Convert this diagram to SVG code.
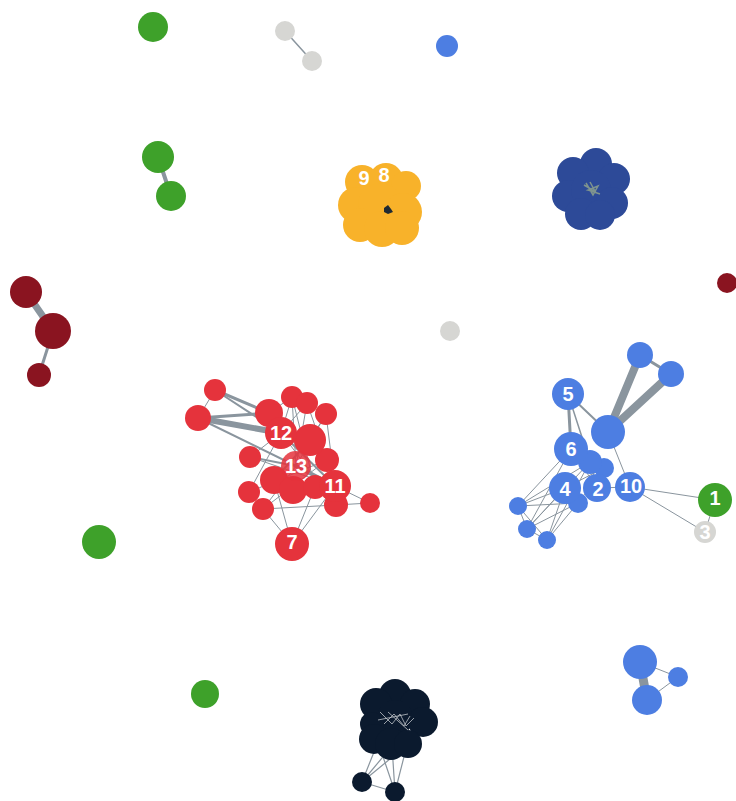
<svg xmlns="http://www.w3.org/2000/svg" width="736" height="801" viewBox="0 0 736 801">
<style>
.e{stroke:#8a959e;fill:none;stroke-linecap:round}
.red{fill:#e5333c}
.blu{fill:#4d7ee2}
.dbl{fill:#2d4a98}
.yel{fill:#f8b22a}
.grn{fill:#3ea12a}
.drd{fill:#8a1420}
.gry{fill:#d6d6d3}
.blk{fill:#0b1a2e}
.lb{font-family:"Liberation Sans",Arial,sans-serif;font-weight:bold;font-size:20px;fill:#ffffff;text-anchor:middle;dominant-baseline:central}
</style>
<rect width="736" height="801" fill="#ffffff"/>
<g id="connectors">
<line class="e" x1="285" y1="31" x2="312" y2="61" stroke-width="1.5"/>
<line class="e" x1="158" y1="157" x2="171" y2="196" stroke-width="4"/>
<line class="e" x1="26" y1="292" x2="53" y2="331" stroke-width="7"/>
<line class="e" x1="53" y1="331" x2="39" y2="375" stroke-width="3"/>
<line class="e" x1="640" y1="662" x2="647" y2="700" stroke-width="9"/>
<line class="e" x1="640" y1="662" x2="678" y2="677" stroke-width="1"/>
<line class="e" x1="647" y1="700" x2="678" y2="677" stroke-width="1"/>
<g stroke-width="1">
<line class="e" x1="215" y1="390" x2="198" y2="418"/>
<line class="e" x1="215" y1="390" x2="269" y2="413" stroke-width="3"/>
<line class="e" x1="215" y1="390" x2="281" y2="433" stroke-width="2"/>
<line class="e" x1="198" y1="418" x2="269" y2="413" stroke-width="3"/>
<line class="e" x1="198" y1="418" x2="281" y2="433" stroke-width="6"/>
<line class="e" x1="198" y1="418" x2="296" y2="466" stroke-width="2"/>
<line class="e" x1="269" y1="413" x2="292" y2="397"/>
<line class="e" x1="281" y1="433" x2="292" y2="397"/>
<line class="e" x1="281" y1="433" x2="307" y2="403"/>
<line class="e" x1="296" y1="466" x2="292" y2="397"/>
<line class="e" x1="296" y1="466" x2="307" y2="403"/>
<line class="e" x1="310" y1="440" x2="326" y2="414"/>
<line class="e" x1="296" y1="466" x2="326" y2="414"/>
<line class="e" x1="335" y1="486" x2="326" y2="414"/>
<line class="e" x1="250" y1="457" x2="281" y2="433"/>
<line class="e" x1="250" y1="457" x2="296" y2="466" stroke-width="2"/>
<line class="e" x1="249" y1="492" x2="281" y2="433"/>
<line class="e" x1="263" y1="509" x2="296" y2="466"/>
<line class="e" x1="335" y1="486" x2="370" y2="503"/>
<line class="e" x1="336" y1="505" x2="370" y2="503"/>
<line class="e" x1="292" y1="544" x2="274" y2="480"/>
<line class="e" x1="292" y1="544" x2="315" y2="487"/>
<line class="e" x1="292" y1="544" x2="335" y2="486"/>
<line class="e" x1="292" y1="544" x2="263" y2="509"/>
<line class="e" x1="263" y1="509" x2="336" y2="505"/>
<line class="e" x1="274" y1="480" x2="335" y2="486"/>
<line class="e" x1="281" y1="433" x2="335" y2="486" stroke="#3c4a58" stroke-width="2"/>
<line class="e" x1="296" y1="466" x2="335" y2="486" stroke="#2e3c4a" stroke-width="4"/>
<line class="e" x1="310" y1="440" x2="274" y2="480" stroke="#3c4a58" stroke-width="2"/>
<line class="e" x1="269" y1="413" x2="327" y2="460"/>
<line class="e" x1="250" y1="457" x2="335" y2="486" stroke="#4a5866"/>
<line class="e" x1="249" y1="492" x2="327" y2="460"/>
<line class="e" x1="307" y1="403" x2="327" y2="460"/>
<line class="e" x1="292" y1="397" x2="315" y2="487"/>
<line class="e" x1="263" y1="509" x2="327" y2="460"/>
<line class="e" x1="281" y1="433" x2="336" y2="505" stroke="#3c4a58"/>
</g>
<line class="e" x1="608" y1="432" x2="640" y2="355" stroke-width="8"/>
<line class="e" x1="608" y1="432" x2="671" y2="374" stroke-width="8"/>
<line class="e" x1="640" y1="355" x2="671" y2="374" stroke-width="3"/>
<line class="e" x1="568" y1="394" x2="571" y2="449" stroke-width="3"/>
<line class="e" x1="568" y1="394" x2="608" y2="432" stroke-width="2"/>
<line class="e" x1="568" y1="394" x2="590" y2="462" stroke-width="1.5"/>
<line class="e" x1="608" y1="432" x2="630" y2="487" stroke-width="1"/>
<line class="e" x1="630" y1="487" x2="715" y2="500" stroke-width="1"/>
<line class="e" x1="630" y1="487" x2="705" y2="532" stroke-width="1"/>
<line class="e" x1="715" y1="500" x2="705" y2="532" stroke-width="1"/>
<line class="e" x1="597" y1="488" x2="630" y2="487" stroke-width="1"/>
<g stroke-width="1" class="e">
<line x1="518" y1="506" x2="565" y2="488"/>
<line x1="518" y1="506" x2="578" y2="503"/>
<line x1="518" y1="506" x2="571" y2="449"/>
<line x1="518" y1="506" x2="590" y2="462"/>
<line x1="527" y1="529" x2="565" y2="488"/>
<line x1="527" y1="529" x2="578" y2="503"/>
<line x1="527" y1="529" x2="590" y2="462"/>
<line x1="527" y1="529" x2="571" y2="449"/>
<line x1="547" y1="540" x2="565" y2="488"/>
<line x1="547" y1="540" x2="578" y2="503"/>
<line x1="547" y1="540" x2="590" y2="462"/>
<line x1="518" y1="506" x2="527" y2="529"/>
<line x1="527" y1="529" x2="547" y2="540"/>
<line x1="518" y1="506" x2="547" y2="540"/>
<line x1="571" y1="449" x2="597" y2="488"/>
<line x1="590" y1="462" x2="597" y2="488"/>
<line x1="565" y1="488" x2="604" y2="468"/>
<line x1="578" y1="503" x2="604" y2="468"/>
</g>
<g class="e" stroke-width="1.2" stroke="#9aa2a8">
<line x1="362" y1="782" x2="378" y2="742"/>
<line x1="362" y1="782" x2="392" y2="746"/>
<line x1="362" y1="782" x2="407" y2="745"/>
<line x1="395" y1="792" x2="378" y2="742"/>
<line x1="395" y1="792" x2="392" y2="746"/>
<line x1="395" y1="792" x2="407" y2="745"/>
<line x1="362" y1="782" x2="395" y2="792"/>
</g>
</g>
<g id="n-green-top"><circle class="grn" cx="153" cy="27" r="15"/></g>
<g id="n-gray-a"><circle class="gry" cx="285" cy="31" r="10"/></g>
<g id="n-gray-b"><circle class="gry" cx="312" cy="61" r="10"/></g>
<g id="n-blue-single"><circle class="blu" cx="447" cy="46" r="11"/></g>
<g id="n-green-a"><circle class="grn" cx="158" cy="157" r="16"/></g>
<g id="n-green-b"><circle class="grn" cx="171" cy="196" r="15"/></g>
<g id="n-yellow-cluster">
<circle class="yel" cx="362" cy="182" r="17"/>
<circle class="yel" cx="386" cy="180" r="17"/>
<circle class="yel" cx="406" cy="186" r="15"/>
<circle class="yel" cx="356" cy="205" r="18"/>
<circle class="yel" cx="380" cy="205" r="22"/>
<circle class="yel" cx="403" cy="212" r="19"/>
<circle class="yel" cx="360" cy="225" r="17"/>
<circle class="yel" cx="382" cy="229" r="18"/>
<circle class="yel" cx="402" cy="228" r="17"/>
<path d="M384 208 l4 -3 l3 4 l2 3 l-5 2 l-4 -2z" fill="#1f2a33"/>
<text class="lb" x="364" y="178">9</text>
<text class="lb" x="384" y="175">8</text>
</g>
<g id="n-darkblue-cluster">
<circle class="dbl" cx="596" cy="164" r="16"/>
<circle class="dbl" cx="573" cy="173" r="16"/>
<circle class="dbl" cx="614" cy="179" r="16"/>
<circle class="dbl" cx="568" cy="196" r="16"/>
<circle class="dbl" cx="591" cy="190" r="20"/>
<circle class="dbl" cx="612" cy="203" r="16"/>
<circle class="dbl" cx="581" cy="214" r="16"/>
<circle class="dbl" cx="600" cy="215" r="15"/>
<g stroke="#7f948e" stroke-width="1.5" fill="none"><path d="M584 185 l12 7 l-8 -2 l10 -4 l-5 9 l-7 -12 M590 182 l6 11 M588 190 l12 4"/></g>
</g>
<g id="n-darkred-right"><circle class="drd" cx="727" cy="283" r="10"/></g>
<g id="n-darkred-a"><circle class="drd" cx="26" cy="292" r="16"/></g>
<g id="n-darkred-b"><circle class="drd" cx="53" cy="331" r="18"/></g>
<g id="n-darkred-c"><circle class="drd" cx="39" cy="375" r="12"/></g>
<g id="n-gray-single"><circle class="gry" cx="450" cy="331" r="10"/></g>
<g id="n-red-cluster">
<circle class="red" cx="215" cy="390" r="11"/>
<circle class="red" cx="198" cy="418" r="13"/>
<circle class="red" cx="292" cy="397" r="11"/>
<circle class="red" cx="307" cy="403" r="11"/>
<circle class="red" cx="326" cy="414" r="11"/>
<circle class="red" cx="269" cy="413" r="14"/>
<circle class="red" cx="250" cy="457" r="11"/>
<circle class="red" cx="327" cy="460" r="12"/>
<circle class="red" cx="310" cy="440" r="16"/>
<circle class="red" cx="281" cy="433" r="16"/>
<circle class="red" cx="249" cy="492" r="11"/>
<circle class="red" cx="263" cy="509" r="11"/>
<circle class="red" cx="370" cy="503" r="10"/>
<circle class="red" cx="274" cy="480" r="14"/>
<circle class="red" cx="293" cy="490" r="14"/>
<circle class="red" cx="315" cy="487" r="12"/>
<circle class="red" cx="296" cy="466" r="15" fill-opacity="0.85"/>
<circle class="red" cx="336" cy="505" r="12"/>
<circle class="red" cx="335" cy="486" r="16"/>
<circle class="red" cx="292" cy="544" r="17"/>
<text class="lb" x="281" y="433">12</text>
<text class="lb" x="296" y="466">13</text>
<text class="lb" x="335" y="486">11</text>
<text class="lb" x="292" y="542">7</text>
</g>
<g id="n-blue-cluster">
<circle class="blu" cx="640" cy="355" r="13"/>
<circle class="blu" cx="671" cy="374" r="13"/>
<circle class="blu" cx="568" cy="394" r="16"/>
<circle class="blu" cx="518" cy="506" r="9"/>
<circle class="blu" cx="527" cy="529" r="9"/>
<circle class="blu" cx="547" cy="540" r="9"/>
<circle class="blu" cx="578" cy="503" r="10"/>
<circle class="blu" cx="604" cy="468" r="10"/>
<circle class="blu" cx="590" cy="462" r="12"/>
<circle class="blu" cx="571" cy="449" r="17"/>
<circle class="blu" cx="608" cy="432" r="17"/>
<circle class="blu" cx="565" cy="488" r="16"/>
<circle class="blu" cx="597" cy="488" r="14"/>
<circle class="blu" cx="630" cy="487" r="15"/>
<text class="lb" x="568" y="394">5</text>
<text class="lb" x="571" y="449">6</text>
<text class="lb" x="565" y="489">4</text>
<text class="lb" x="598" y="489">2</text>
<text class="lb" x="631" y="486">10</text>
</g>
<g id="n-1"><circle class="grn" cx="715" cy="500" r="17"/><text class="lb" x="715" y="498">1</text></g>
<g id="n-3"><circle class="gry" cx="705" cy="532" r="11"/><text class="lb" x="705" y="532" font-size="16">3</text></g>
<g id="n-green-c"><circle class="grn" cx="99" cy="542" r="17"/></g>
<g id="n-green-d"><circle class="grn" cx="205" cy="694" r="14"/></g>
<g id="n-blue-trio">
<circle class="blu" cx="640" cy="662" r="17"/>
<circle class="blu" cx="647" cy="700" r="15"/>
<circle class="blu" cx="678" cy="677" r="10"/>
</g>
<g id="n-black-cluster">
<circle class="blk" cx="395" cy="695" r="16"/>
<circle class="blk" cx="376" cy="704" r="16"/>
<circle class="blk" cx="415" cy="704" r="15"/>
<circle class="blk" cx="395" cy="718" r="18"/>
<circle class="blk" cx="423" cy="722" r="15"/>
<circle class="blk" cx="372" cy="724" r="12"/>
<circle class="blk" cx="374" cy="739" r="15"/>
<circle class="blk" cx="391" cy="744" r="16"/>
<circle class="blk" cx="408" cy="744" r="14"/>
<g stroke="#c8ccd0" stroke-width="1" fill="none" opacity="0.75"><path d="M380 712 l12 12 l8 -10 l6 12 l8 -8 M384 724 l10 -10 l10 12 l6 -10 M388 712 l20 18 M378 720 l30 -6"/></g>
<circle class="blk" cx="362" cy="782" r="10"/>
<circle class="blk" cx="395" cy="792" r="10"/>
</g>
</svg>
